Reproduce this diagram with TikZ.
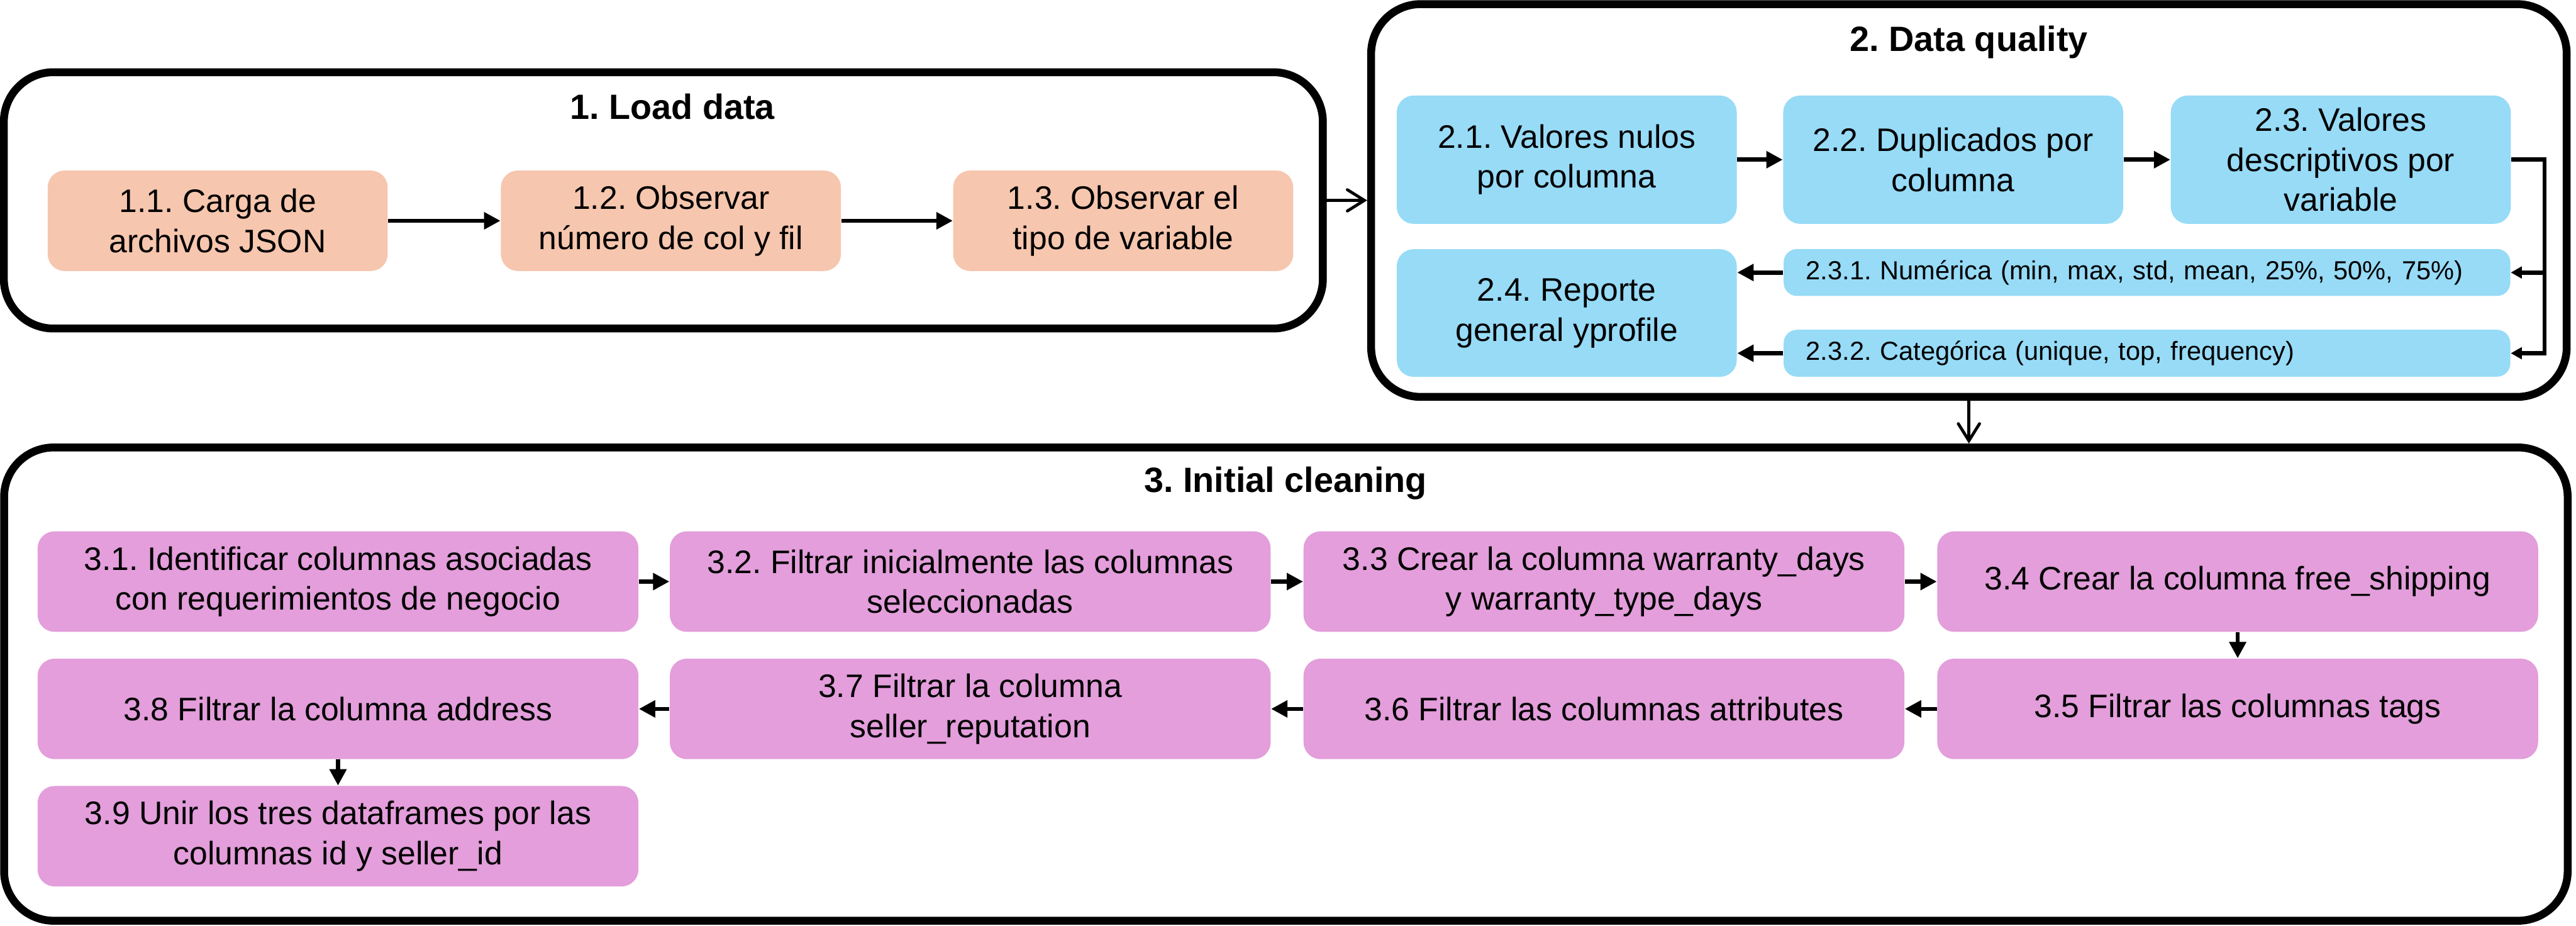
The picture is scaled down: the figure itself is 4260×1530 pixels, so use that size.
\documentclass[tikz,border=0pt]{standalone}
\usepackage{fontspec}
\setmainfont{Liberation Sans}
\usetikzlibrary{arrows.meta,calc}
\definecolor{peach}{HTML}{F6C6AE}
\definecolor{skyb}{HTML}{97DBF7}
\definecolor{orchid}{HTML}{E39EDB}
\frenchspacing
\begin{document}
\begin{tikzpicture}[x=0.01cm,y=-0.01cm,
  frame/.style={draw=black, line width=3.7pt, rounded corners=0.82cm, inner sep=0pt},
  ttl/.style={font=\fontsize{16.5}{20}\selectfont\bfseries, anchor=base, inner sep=0pt},
  nd/.style={rounded corners=0.28cm, inner sep=0pt, align=center, font=\fontsize{15.3}{18.8}\selectfont},
  pn/.style={nd, fill=peach, minimum width=5.62cm, minimum height=1.66cm},
  bn/.style={nd, fill=skyb, minimum width=5.62cm, minimum height=2.12cm},
  sn/.style={rounded corners=0.22cm, fill=skyb, inner xsep=0.37cm, inner ysep=0pt, text width=11.27cm, align=left, minimum height=0.775cm, font=\fontsize{12.3}{15}\selectfont},
  on/.style={nd, fill=orchid, minimum width=9.93cm, minimum height=1.66cm},
  arr/.style={line width=2pt, -{Triangle[length=7.7pt,width=7.7pt]}},
  arrs/.style={line width=2pt, -{Triangle[length=5.2pt,width=5.4pt]}},
  thinarr/.style={line width=1.4pt, line cap=round, -{Straight Barb[length=8pt,width=10pt,line cap=round]}}]
\useasboundingbox (0,0) rectangle (4260,1530);

% ---------- frames ----------
\node[frame, minimum width=21.8cm, minimum height=4.235cm] (B1) at (1097,331.25) {};
\node[frame, minimum width=19.76cm, minimum height=6.49cm] (B2) at (3256,331.5) {};
\node[frame, minimum width=42.37cm, minimum height=7.82cm] (B3) at (2126.5,1131) {};

\node[ttl] (T1) at (1112,197) {1. Load data};
\node[ttl] (T2) at (3256,85) {2. Data quality};
\node[ttl] (T3) at (2126,814) {3. Initial cleaning};

% ---------- block 1 ----------
\node[pn] (n11) at (360,365) {1.1. Carga de\\archivos JSON};
\node[pn] (n12) at (1109.5,365) {1.2. Observar\\número de col y fil};
\node[pn] (n13) at (1857.5,365) {1.3. Observar el\\tipo de variable};
\draw[arr] (n11) -- (n12);
\draw[arr] (n12) -- (n13);

% ---------- block 2 ----------
\node[bn] (n21) at (2591,264) {2.1. Valores nulos\\por columna};
\node[bn] (n22) at (3230,264) {2.2. Duplicados por\\columna};
\node[bn] (n23) at (3871,264) {2.3. Valores\\descriptivos por\\variable};
\node[bn, minimum height=2.11cm] (n24) at (2591,517.5) {2.4. Reporte\\general yprofile};
\node[sn] (n231) at (3550.5,450.5) {2.3.1. Numérica (min, max, std, mean, 25\%, 50\%, 75\%)};
\node[sn] (n232) at (3550.5,584) {2.3.2. Categórica (unique, top, frequency)};
\draw[arr] (n21) -- (n22);
\draw[arr] (n22) -- (n23);
\coordinate (c23) at ($(n23.east)+(55,0)$);
\draw[arrs] (n23.east) -- (c23) |- (n232.east);
\draw[arrs] (c23 |- n231.east) -- (n231.east);
\draw[arr] (n231.west) -- (n231.west -| n24.east);
\draw[arr] (n232.west) -- (n232.west -| n24.east);

% ---------- block 3 ----------
\node[on] (n31) at (559,961.5) {3.1. Identificar columnas asociadas\\con requerimientos de negocio};
\node[on] (n32) at (1604.5,961.5) {3.2. Filtrar inicialmente las columnas\\seleccionadas};
\node[on] (n33) at (2652.5,961.5) {3.3 Crear la columna warranty\_days\\y warranty\_type\_days};
\node[on] (n34) at (3700.5,961.5) {3.4 Crear la columna free\_shipping};
\node[on] (n35) at (3700.5,1172) {3.5 Filtrar las columnas tags};
\node[on] (n36) at (2652.5,1172) {3.6 Filtrar las columnas attributes};
\node[on] (n37) at (1604.5,1172) {3.7 Filtrar la columna\\seller\_reputation};
\node[on] (n38) at (559,1172) {3.8 Filtrar la columna address};
\node[on] (n39) at (559,1382.5) {3.9 Unir los tres dataframes por las\\columnas id y seller\_id};
\draw[arr] (n31) -- (n32);
\draw[arr] (n32) -- (n33);
\draw[arr] (n33) -- (n34);
\draw[arr] (n34) -- (n35);
\draw[arr] (n35) -- (n36);
\draw[arr] (n36) -- (n37);
\draw[arr] (n37) -- (n38);
\draw[arr] (n38) -- (n39);

% ---------- between blocks ----------
\draw[thinarr] (B1.east) -- (B1.east -| B2.west);
\draw[thinarr] (B2.south) -- (B2.south |- B3.north);
\end{tikzpicture}
\end{document}
